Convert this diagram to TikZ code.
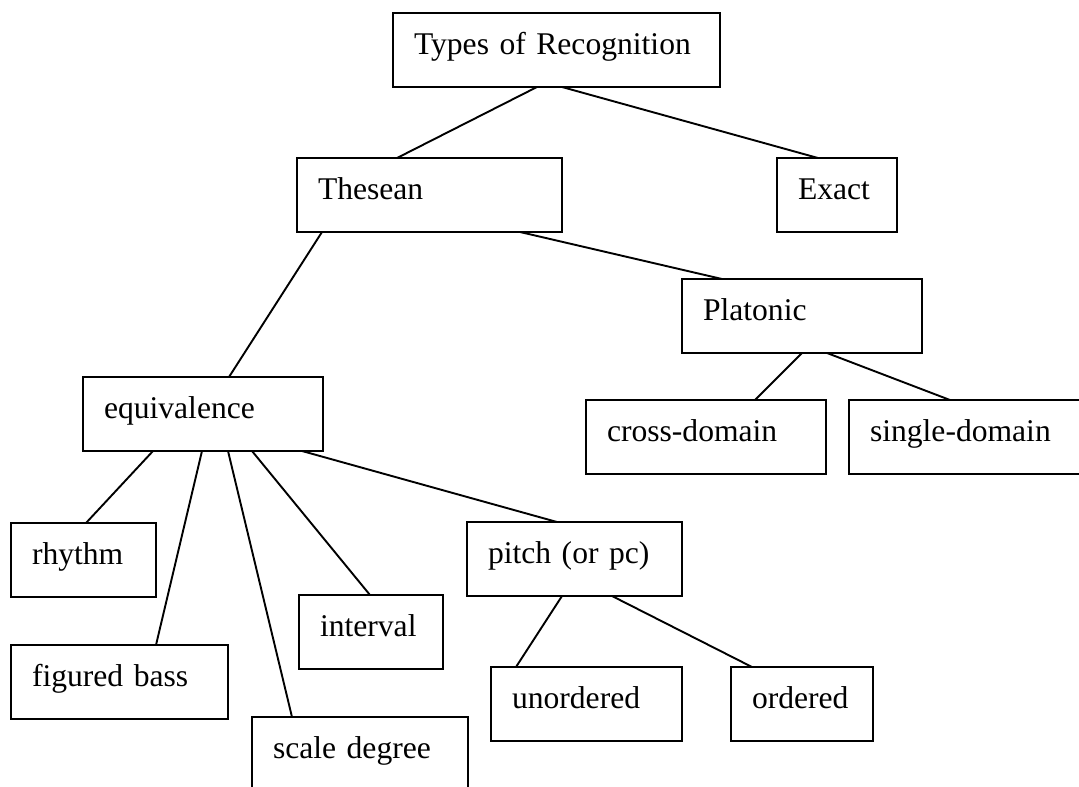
\documentclass[tikz,border=0pt]{standalone}
\usepackage{fontspec}
\setmainfont{Liberation Serif}
\begin{document}
\begin{tikzpicture}[x=1pt,y=-1pt,
  box/.style={draw, line width=2.2pt, anchor=north west, outer sep=0pt,
    inner xsep=21pt, inner ysep=0pt, text height=41pt, text depth=33pt,
    align=left, font=\fontsize{31.6}{38}\selectfont},
  link/.style={line width=1.9pt}]
\clip (0,0) rectangle (1079,787);
\fill[white] (0,0) rectangle (1079,787);

% boxes of the classification tree
\node[box, text width=285pt] (types) at (393,13) {Types of Recognition};
\node[box, text width=223pt] (thesean) at (297,158) {Thesean};
\node[box, text width=78pt] (exact) at (777,158) {Exact};
\node[box, text width=198pt] (platonic) at (682,279) {Platonic};
\node[box, text width=198pt] (cross) at (586,400) {cross-domain};
\node[box, text width=198pt] (single) at (849,400) {single-domain};
\node[box, text width=198pt] (equiv) at (83,377) {equivalence};
\node[box, text width=103pt] (rhythm) at (11,523) {rhythm};
\node[box, text width=175pt] (figbass) at (11,645) {figured bass};
\node[box, text width=102pt] (interval) at (299,595) {interval};
\node[box, text width=174pt] (scale) at (252,717) {scale degree};
\node[box, text width=173pt] (pitch) at (467,522) {pitch (or pc)};
\node[box, text width=149pt] (unordered) at (491,667) {unordered};
\node[box, text width=100pt] (ordered) at (731,667) {ordered};

% connectors
\draw[link] ([xshift=144pt]types.south west) -- ([xshift=100pt]thesean.north west);
\draw[link] ([xshift=169pt]types.south west) -- ([xshift=41pt]exact.north west);
\draw[link] ([xshift=25pt]thesean.south west) -- ([xshift=146pt]equiv.north west);
\draw[link] ([xshift=223pt]thesean.south west) -- ([xshift=40pt]platonic.north west);
\draw[link] ([xshift=120pt]platonic.south west) -- ([xshift=169pt]cross.north west);
\draw[link] ([xshift=145pt]platonic.south west) -- ([xshift=101pt]single.north west);
\draw[link] ([xshift=70pt]equiv.south west) -- ([xshift=75pt]rhythm.north west);
\draw[link] ([xshift=119pt]equiv.south west) -- ([xshift=145pt]figbass.north west);
\draw[link] ([xshift=145pt]equiv.south west) -- ([xshift=40pt]scale.north west);
\draw[link] ([xshift=169pt]equiv.south west) -- ([xshift=71pt]interval.north west);
\draw[link] ([xshift=219pt]equiv.south west) -- ([xshift=90pt]pitch.north west);
\draw[link] ([xshift=95pt]pitch.south west) -- ([xshift=25pt]unordered.north west);
\draw[link] ([xshift=145pt]pitch.south west) -- ([xshift=21pt]ordered.north west);
\end{tikzpicture}
\end{document}
